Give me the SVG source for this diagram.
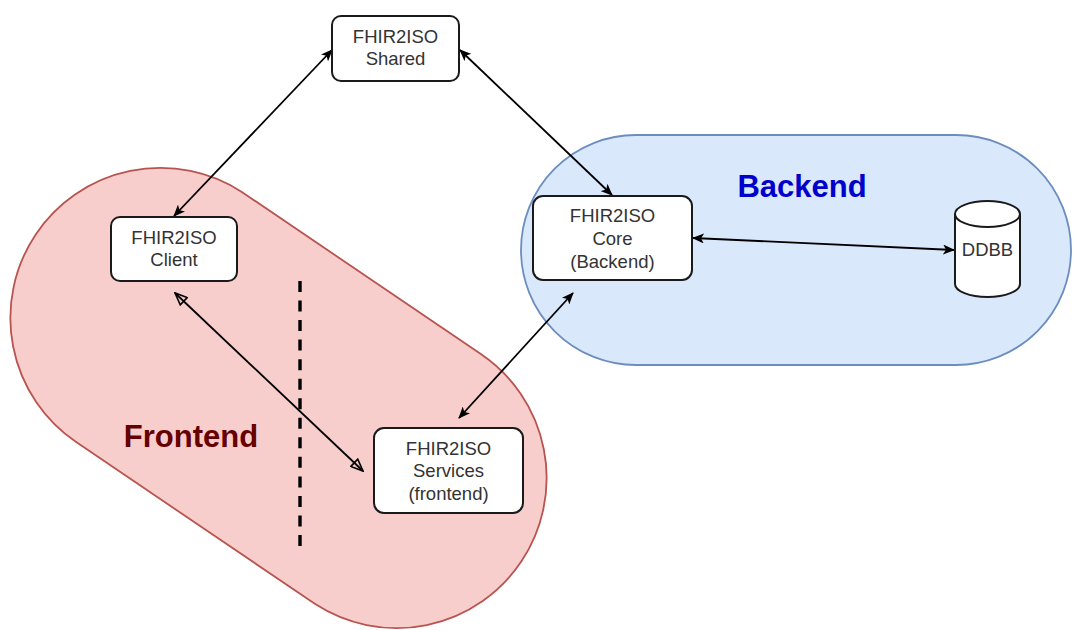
<svg xmlns="http://www.w3.org/2000/svg" width="1073" height="630" viewBox="0 0 1073 630">
  <style>
    .box { fill: #ffffff; stroke: #1a1a1a; stroke-width: 2; }
    .lbl { font-family: "Liberation Sans", Arial, sans-serif; font-size: 18.5px; fill: #333333; text-anchor: middle; }
    .zone { font-family: "Liberation Sans", Arial, sans-serif; font-size: 31px; font-weight: bold; text-anchor: middle; }
    .link { stroke: #000000; stroke-width: 1.8; fill: none; }
  </style>
  <defs>
    <marker id="arrow" viewBox="0 0 12 10" refX="11" refY="5" markerWidth="12" markerHeight="10" markerUnits="userSpaceOnUse" orient="auto-start-reverse">
      <path d="M0,0 L12,5 L0,10 L3,5 Z" fill="#000000"/>
    </marker>
    <marker id="block" viewBox="0 0 14 12" refX="13" refY="6" markerWidth="14" markerHeight="12" markerUnits="userSpaceOnUse" orient="auto-start-reverse">
      <path d="M1,1 L13,6 L1,11 Z" fill="none" stroke="#000000" stroke-width="1.6"/>
    </marker>
  </defs>

  <!-- Frontend zone: capsule tilted along the Client / Services axis -->
  <g id="frontend-zone">
    <path d="M 242.2,192.2 L 481.2,354.2 A 150 150 0 0 1 314.8,603.8 L 75.8,441.8 A 150 150 0 0 1 242.2,192.2 Z" fill="#f8cecc" stroke="#b85450" stroke-width="1.8"/>
    <text class="zone" x="191" y="447" fill="#660000">Frontend</text>
  </g>

  <!-- Backend zone -->
  <g id="backend-zone">
    <rect x="521" y="135" width="550" height="230" rx="115" ry="115" fill="#dae8fc" stroke="#6c8ebf" stroke-width="1.8"/>
    <text class="zone" x="802" y="197" fill="#0000cc">Backend</text>
  </g>

  <!-- Separator between client and services -->
  <line id="separator" x1="300" y1="281" x2="300" y2="546" stroke="#000000" stroke-width="3.4" stroke-dasharray="11 8.54"/>

  <g id="connectors">
    <line class="link" x1="332" y1="50" x2="174" y2="216" marker-start="url(#arrow)" marker-end="url(#arrow)"/>
    <line class="link" x1="460" y1="50" x2="612" y2="195" marker-start="url(#arrow)" marker-end="url(#arrow)"/>
    <line class="link" x1="693" y1="238" x2="954" y2="250" marker-start="url(#arrow)" marker-end="url(#arrow)"/>
    <line class="link" x1="573" y1="293" x2="459" y2="418" marker-start="url(#arrow)" marker-end="url(#arrow)"/>
    <line class="link" x1="175" y1="293" x2="363" y2="471" marker-start="url(#block)" marker-end="url(#block)"/>
  </g>

  <g id="shared">
    <rect class="box" x="332" y="16" width="127" height="65" rx="9"/>
    <text class="lbl" x="395.5" y="43">FHIR2ISO</text>
    <text class="lbl" x="395.5" y="65">Shared</text>
  </g>

  <g id="client">
    <rect class="box" x="111" y="217" width="126" height="64" rx="9"/>
    <text class="lbl" x="174" y="244">FHIR2ISO</text>
    <text class="lbl" x="174" y="266">Client</text>
  </g>

  <g id="core">
    <rect class="box" x="533" y="196" width="159" height="84" rx="10"/>
    <text class="lbl" x="612.5" y="222">FHIR2ISO</text>
    <text class="lbl" x="612.5" y="245">Core</text>
    <text class="lbl" x="612.5" y="268">(Backend)</text>
  </g>

  <g id="services">
    <rect class="box" x="374" y="428" width="149" height="85" rx="10"/>
    <text class="lbl" x="448.5" y="455">FHIR2ISO</text>
    <text class="lbl" x="448.5" y="477">Services</text>
    <text class="lbl" x="448.5" y="500">(frontend)</text>
  </g>

  <g id="ddbb">
    <path d="M955,214 A32.5 13 0 0 1 1020,214 L1020,284 A32.5 13 0 0 1 955,284 Z" fill="#ffffff" stroke="#1a1a1a" stroke-width="2"/>
    <path d="M955,214 A32.5 13 0 0 0 1020,214" fill="none" stroke="#1a1a1a" stroke-width="2"/>
    <text class="lbl" x="987.5" y="256">DDBB</text>
  </g>
</svg>
